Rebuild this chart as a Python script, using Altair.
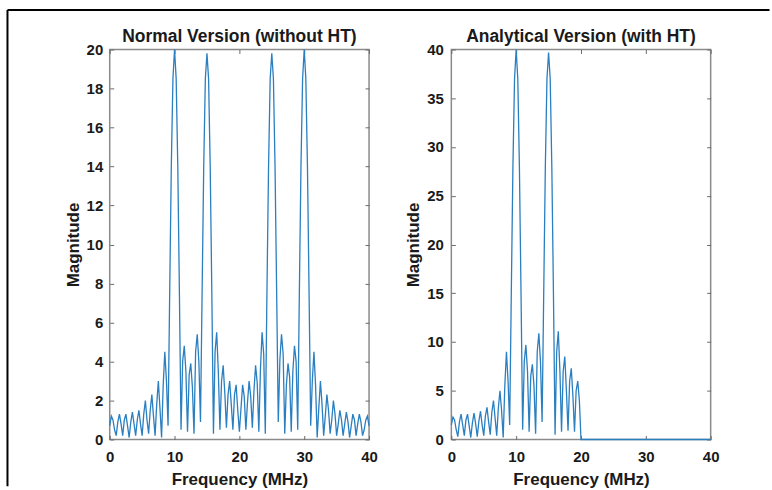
import altair as alt
import pandas as pd
import numpy as np

# ---------------- data ----------------
FREQ_STEP = 0.25  # MHz sampling grid of the read-off values

# Normal version (without HT), 0 .. 40 MHz every 0.25 MHz
normal_mag = [
    0.7, 1.2, 1.0, 0.5, 0.2, 0.9, 1.3, 0.8, 0.2, 1.0, 1.3, 0.7,
    0.1, 0.9, 1.4, 0.8, 0.2, 1.0, 1.5, 0.8, 0.2, 1.3, 2.0, 1.0,
    0.3, 1.5, 2.3, 1.2, 0.2, 1.8, 3.0, 1.6, 0.1, 2.8, 4.5, 3.0,
    0.7, 7.5, 14.0, 18.5, 20.0, 18.5, 14.0, 7.5,
    0.5, 4.0, 4.8, 3.5, 0.4, 3.3, 3.9, 2.7, 0.3, 4.5, 5.4, 4.0,
    0.9, 7.5, 14.0, 18.5, 19.8, 18.5, 14.0, 7.5,
    0.3, 4.5, 5.5, 3.5, 0.5, 3.0, 3.8, 2.4, 0.6, 2.3, 3.0, 1.8,
    0.5, 2.3, 2.8, 1.5, 0.4,
    1.6, 2.8, 2.2, 0.5, 1.9, 3.0, 2.2, 0.6, 2.5, 3.8, 2.9,
    0.4, 3.6, 5.5, 4.4, 0.3,
    7.5, 14.0, 18.5, 19.8, 18.5, 14.0, 7.5,
    0.9, 4.1, 5.4, 4.4, 0.3, 2.8, 3.9, 3.2, 0.4, 3.5, 4.8, 4.0,
    0.5, 7.5, 14.0, 18.5, 20.0, 18.5, 14.0, 7.5,
    0.7, 3.0, 4.5, 2.8, 0.1, 1.6, 3.0, 1.8, 0.2, 1.2, 2.3, 1.5,
    0.3, 1.0, 2.0, 1.3, 0.2, 0.8, 1.5, 1.0, 0.2, 0.8, 1.4, 0.9,
    0.1, 0.7, 1.3, 1.0, 0.2, 0.8, 1.3, 0.9, 0.2, 0.5, 1.0, 1.2, 0.7,
]

# Analytical version (with HT), 0 .. 20 MHz every 0.25 MHz
analytic_mag = [
    1.5, 2.3, 2.0, 1.0, 0.3, 1.8, 2.6, 1.5, 0.4, 2.0, 2.6, 1.4,
    0.2, 1.7, 2.7, 1.6, 0.3, 1.9, 2.9, 1.5, 0.4, 2.4, 3.3, 1.8,
    0.5, 2.8, 4.0, 2.2, 0.4, 3.2, 5.0, 3.0, 0.2, 5.5, 9.0, 6.0,
    1.5, 15.0, 28.0, 37.0, 40.0, 37.0, 28.0, 15.0,
    1.0, 8.0, 9.7, 7.0, 0.8, 6.5, 7.7, 5.5, 0.6, 9.0, 10.9, 8.0,
    1.8, 15.0, 28.0, 37.0, 39.7, 37.0, 28.0, 15.0,
    0.5, 9.0, 11.1, 7.0, 0.8, 7.0, 8.5, 5.0, 0.9, 6.0, 7.3, 4.5,
    0.8, 5.0, 6.0, 4.0, 0.0,
]
# above 20 MHz the analytical spectrum is flat zero
analytic_tail_freq = [40.0]
analytic_tail_mag = [0.0]

X_TICKS = [0, 10, 20, 30, 40]
NORMAL_Y_TICKS = [0, 2, 4, 6, 8, 10, 12, 14, 16, 18, 20]
ANALYTIC_Y_TICKS = [0, 5, 10, 15, 20, 25, 30, 35, 40]
TITLES = ["Normal Version (without HT)", "Analytical Version (with HT)"]

normal_freq = list(np.arange(len(normal_mag)) * FREQ_STEP)
analytic_freq = list(np.arange(len(analytic_mag)) * FREQ_STEP) + analytic_tail_freq
analytic_all = analytic_mag + analytic_tail_mag

# ---------------- style ----------------
FONT = "Liberation Sans"
TXT = "#1a1a1a"
BOX = "#8a8a8a"
TICK = "#6a6a6a"
BLUE = "#2a7fc0"
PW, PH = 260, 391


def axis_common(**kw):
    base = dict(
        domain=False, grid=False, ticks=True, tickSize=4, offset=-4,
        tickColor=TICK, tickWidth=1, labelFlush=False, labelOverlap=False,
        labelFont=FONT, labelFontSize=15, labelFontWeight="bold", labelColor=TXT,
        titleFont=FONT, titleFontSize=17, titleFontWeight="bold", titleColor=TXT,
    )
    base.update(kw)
    return alt.Axis(**base)


def panel(freq, mag, ymax, yticks, title, ylab_pad, extra_layers=()):
    df = pd.DataFrame({"f": freq, "m": mag})
    xs = alt.Scale(domain=[0, 40], nice=False, zero=False)
    ys = alt.Scale(domain=[0, ymax], nice=False)
    line = alt.Chart(df).mark_line(color=BLUE, strokeWidth=1.3).encode(
        x=alt.X("f:Q", scale=xs, axis=axis_common(
            orient="bottom", values=X_TICKS, labelPadding=10,
            title="Frequency (MHz)", titlePadding=7)),
        y=alt.Y("m:Q", scale=ys, axis=axis_common(
            orient="left", values=yticks, labelPadding=ylab_pad,
            title="Magnitude", titlePadding=4)),
    )
    ghost = alt.Chart(df).mark_point(opacity=0).encode(
        x=alt.X("f:Q", scale=xs, axis=axis_common(
            orient="top", values=X_TICKS, labels=False, title="")),
        y=alt.Y("m:Q", scale=ys, axis=axis_common(
            orient="right", values=yticks, labels=False, title="")),
    )
    title_df = pd.DataFrame({"t": [title]})
    title_mark = alt.Chart(title_df).mark_text(
        font=FONT, fontSize=17.5, fontWeight="bold", color=TXT,
        align="center", baseline="alphabetic",
    ).encode(text="t:N", x=alt.value(PW / 2), y=alt.value(-8))
    return alt.layer(line, ghost, title_mark, *extra_layers).resolve_axis(
        x="independent", y="independent"
    ).properties(width=PW, height=PH)


frame_df = pd.DataFrame({"k": [0]})
frame_top = alt.Chart(frame_df).mark_rule(color="black", strokeWidth=2).encode(
    x=alt.value(-102.5), x2=alt.value(661.5), y=alt.value(-39.5))
frame_left = alt.Chart(frame_df).mark_rule(color="black", strokeWidth=2).encode(
    x=alt.value(-102.5), y=alt.value(-39.5), y2=alt.value(438))

left = panel(normal_freq, normal_mag, 20, NORMAL_Y_TICKS, TITLES[0], 7,
             (frame_top, frame_left))
right = panel(analytic_freq, analytic_all, 40, ANALYTIC_Y_TICKS, TITLES[1], 8)

chart = alt.hconcat(left, right, spacing=82.5, bounds="flush").properties(
    padding={"left": 5, "top": 7, "right": 0, "bottom": 0},
    background="white",
).configure_view(stroke=BOX, strokeWidth=1.5)

chart.save("out.html", embed_options={"renderer": "svg", "actions": False})
